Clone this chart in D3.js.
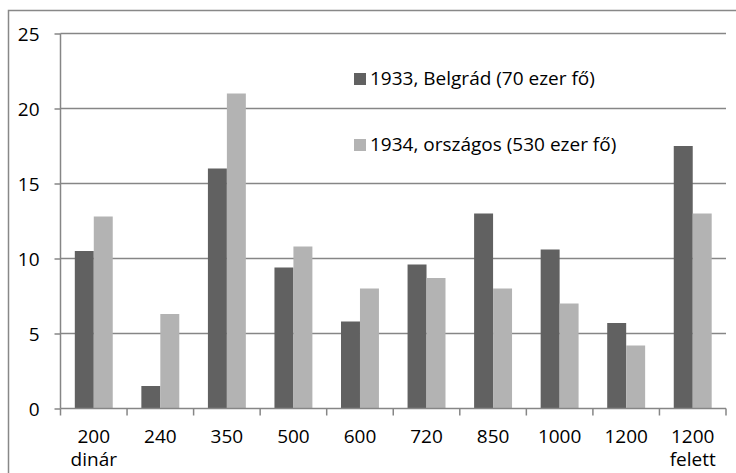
<!DOCTYPE html>
<meta charset="utf-8">
<style>
body { margin: 0; background: #fff; }
text { font-family: "Open Sans", sans-serif; fill: #000; }
</style>
<body>
<script src="https://d3js.org/d3.v7.min.js"></script>
<script>

const categories = [["200", "dinár"], ["240"], ["350"], ["500"], ["600"], ["720"], ["850"], ["1000"], ["1200"], ["1200", "felett"]];
const belgrad1933 = [10.5, 1.5, 16, 9.4, 5.8, 9.6, 13.0, 10.6, 5.7, 17.5];
const orszagos1934 = [12.8, 6.3, 21, 10.8, 8.0, 8.7, 8.0, 7.0, 4.2, 13.0];
const seriesNames = ["1933, Belgrád (70 ezer fő)", "1934, országos (530 ezer fő)"];
const yTicks = [0, 5, 10, 15, 20, 25];

const width = 736, height = 473;
const margin = {top: 33.5, left: 60.5};
const innerWidth = 726 - margin.left;
const innerHeight = 408.5 - margin.top;
const fontSize = "19px";

const colors = ["#616161", "#b3b3b3"];
const gridColor = "#868686";

const svg = d3.select("body").append("svg")
    .attr("width", width)
    .attr("height", height);

// chart frame (runs past the right and bottom edges, as in the original)
svg.append("rect")
    .attr("x", 8.5).attr("y", 10.5)
    .attr("width", 740).attr("height", 480)
    .attr("fill", "none")
    .attr("stroke", "#888")
    .attr("stroke-width", 1.5);

const g = svg.append("g")
    .attr("transform", `translate(${margin.left},${margin.top})`);

const xScale = d3.scaleBand()
    .domain(d3.range(categories.length))
    .range([0, innerWidth])
    .paddingInner(0.43)
    .paddingOuter(0.215);

const band = d3.scaleBand()
    .domain([0, 1])
    .range([0, xScale.bandwidth()]);

const yScale = d3.scaleLinear()
    .domain([0, 25])
    .range([innerHeight, 0]);

// gridlines
g.selectAll(".grid")
    .data(yTicks.filter(d => d > 0))
  .enter().append("line")
    .attr("x1", 0).attr("x2", innerWidth)
    .attr("y1", d => yScale(d)).attr("y2", d => yScale(d))
    .attr("stroke", gridColor)
    .attr("stroke-width", 1.5);

// bars
const data = [belgrad1933, orszagos1934];
data.forEach((series, s) => {
  g.selectAll(".bar" + s)
      .data(series)
    .enter().append("rect")
      .attr("x", (d, i) => xScale(i) + band(s))
      .attr("y", d => yScale(d))
      .attr("width", band.bandwidth())
      .attr("height", d => innerHeight - yScale(d))
      .attr("fill", colors[s]);
});

// y axis
const yAxis = g.append("g")
    .call(d3.axisLeft(yScale).tickValues(yTicks).tickSize(6).tickPadding(15));
yAxis.select(".domain").attr("stroke", gridColor).attr("stroke-width", 1.5).attr("d", `M0,${innerHeight}V0`);
yAxis.selectAll(".tick line").attr("stroke", gridColor).attr("stroke-width", 1.5);
yAxis.selectAll(".tick text").style("font-size", fontSize).attr("dy", "0.35em");

// x axis
const xAxis = g.append("g")
    .attr("transform", `translate(0,${innerHeight})`);
xAxis.append("line")
    .attr("x1", 0).attr("x2", innerWidth)
    .attr("stroke", gridColor).attr("stroke-width", 1.5);
const step = innerWidth / categories.length;
xAxis.selectAll(".xtick")
    .data(d3.range(categories.length + 1))
  .enter().append("line")
    .attr("x1", d => d * step).attr("x2", d => d * step)
    .attr("y1", 0).attr("y2", 7)
    .attr("stroke", gridColor).attr("stroke-width", 1.5);

const labels = xAxis.selectAll(".xlabel")
    .data(categories)
  .enter().append("text")
    .attr("text-anchor", "middle")
    .attr("x", (d, i) => xScale(i) + xScale.bandwidth() / 2)
    .style("font-size", fontSize);
labels.selectAll("tspan")
    .data(d => d)
  .enter().append("tspan")
    .attr("x", function() { return this.parentNode.getAttribute("x"); })
    .attr("y", (d, i) => 34 + i * 23)
    .text(d => d);

// legend
const legend = svg.selectAll(".legend")
    .data(seriesNames)
  .enter().append("g")
    .attr("transform", (d, i) => `translate(354,${73 + i * 66})`);
legend.append("rect")
    .attr("width", 12).attr("height", 12)
    .attr("fill", (d, i) => colors[i]);
legend.append("text")
    .attr("x", 16).attr("y", 11.5)
    .style("font-size", fontSize)
    .text(d => d);

</script>
